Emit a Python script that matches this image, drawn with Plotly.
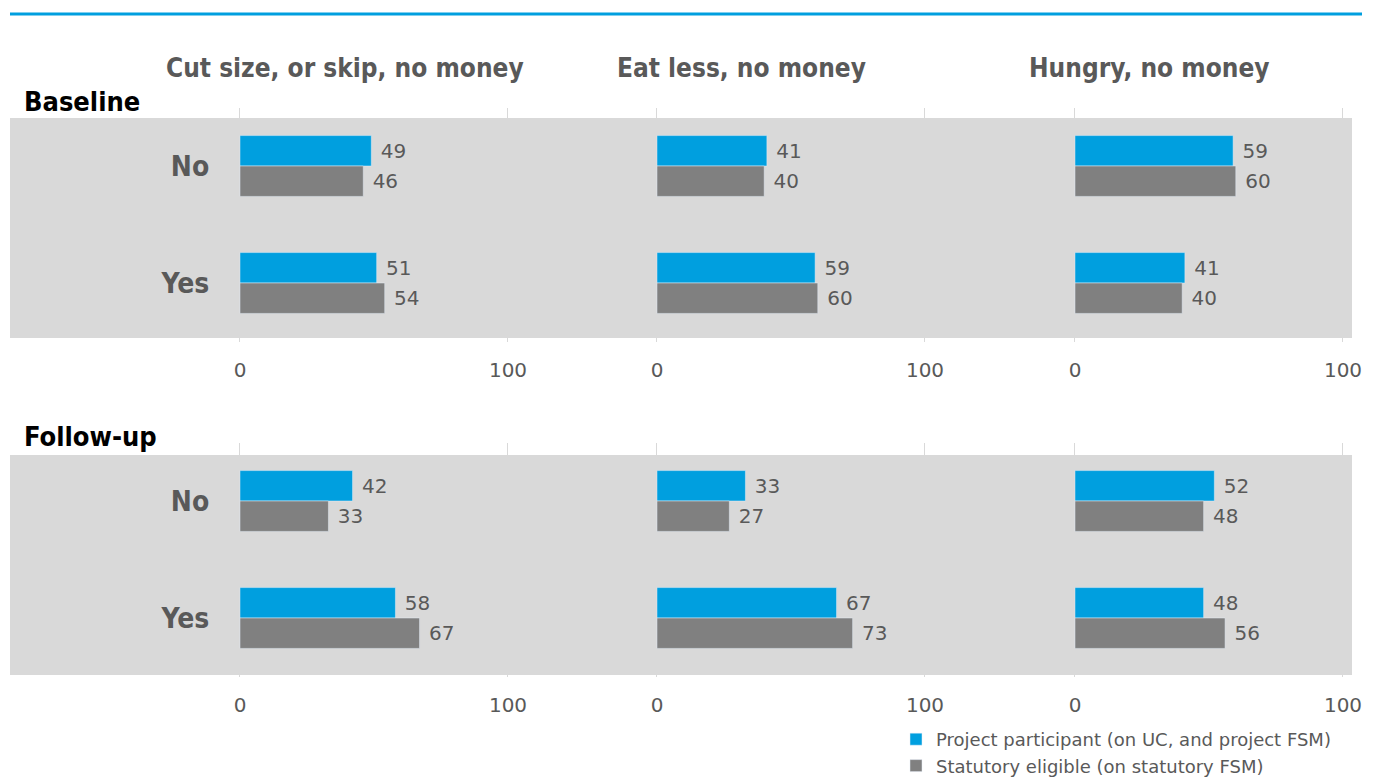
import plotly.graph_objects as go

# ---- data ----
categories = ["No", "Yes"]
panel_titles = ["Cut size, or skip, no money", "Eat less, no money", "Hungry, no money"]
wave_labels = ["Baseline", "Follow-up"]
series_names = ["Project participant (on UC, and project FSM)", "Statutory eligible (on statutory FSM)"]

# values: [panel][category]
baseline_participant = [[49, 51], [41, 59], [59, 41]]
baseline_statutory = [[46, 54], [40, 60], [60, 40]]
followup_participant = [[42, 58], [33, 67], [52, 48]]
followup_statutory = [[33, 67], [27, 73], [48, 56]]

x_ticks = [0, 100]

BLUE = "#009FDF"
GREY = "#808080"
TXT = "#595959"
W, H = 1374, 778
BODY_FONT = "'DejaVu Sans', sans-serif"
COND_FONT = "'DejaVu Sans Condensed', 'DejaVu Sans', sans-serif"

fig = go.Figure()

col_px = [(240, 508), (657, 925), (1075, 1343)]
row_px = [(107.5, 341.5), (442.5, 676.5)]
pad_units = 0.8

waves = [(baseline_participant, baseline_statutory), (followup_participant, followup_statutory)]

k = 0
for r, (part, stat) in enumerate(waves):
    for c in range(3):
        k += 1
        xa = "x" if k == 1 else f"x{k}"
        ya = "y" if k == 1 else f"y{k}"
        for s, (vals, col) in enumerate([(part[c], BLUE), (stat[c], GREY)]):
            fig.add_trace(go.Bar(
                y=categories, x=vals, orientation="h",
                name=series_names[s], marker_color=col,
                text=vals, texttemplate=" %{x}", textposition="outside",
                textfont=dict(size=20, color=TXT, family=BODY_FONT),
                cliponaxis=False,
                legendgroup=series_names[s], showlegend=(k == 1),
                xaxis=xa, yaxis=ya, offsetgroup=str(s),
            ))
        x0, x1 = col_px[c]
        ppu = (x1 - x0) / 100.0
        d0 = (x0 - pad_units * ppu) / W
        d1 = (x1 + pad_units * ppu) / W
        y0, y1 = row_px[r]
        axname = "xaxis" if k == 1 else f"xaxis{k}"
        ayname = "yaxis" if k == 1 else f"yaxis{k}"
        fig.layout[axname] = dict(
            domain=[d0, d1], range=[-pad_units, 100 + pad_units], anchor=ya,
            tickvals=x_ticks, showgrid=True, gridcolor="#D9D9D9", gridwidth=1,
            zeroline=False, showline=False, ticks="outside", ticklen=10,
            tickcolor="rgba(0,0,0,0)", automargin=False,
            tickfont=dict(size=20, color=TXT, family=BODY_FONT),
        )
        fig.layout[ayname] = dict(
            domain=[1 - y1 / H, 1 - y0 / H], anchor=xa,
            categoryorder="array", categoryarray=categories,
            range=[1.5, -0.5], showgrid=False, zeroline=False, showline=False,
            showticklabels=(c == 0), ticks="outside", ticklen=22,
            tickcolor="rgba(0,0,0,0)", automargin=False,
            tickprefix="<b>", ticksuffix="</b>",
            tickfont=dict(size=28, color=TXT, family=COND_FONT),
        )

shapes = []
shapes.append(dict(type="line", xref="paper", yref="paper", x0=10 / W, x1=1362 / W,
                   y0=1 - 14 / H, y1=1 - 14 / H, line=dict(color=BLUE, width=3)))
for (b0, b1) in [(118, 338), (455, 675)]:
    shapes.append(dict(type="rect", xref="paper", yref="paper", x0=10 / W, x1=1352 / W,
                       y0=1 - b1 / H, y1=1 - b0 / H, fillcolor="#D9D9D9",
                       line=dict(width=0), layer="below"))

annotations = []
title_centers = [345, 741, 1149]
for t, cx in zip(panel_titles, title_centers):
    annotations.append(dict(text="<b>" + t + "</b>", x=cx / W, y=1 - 68 / H, xref="paper", yref="paper",
                            xanchor="center", yanchor="middle", showarrow=False,
                            font=dict(size=26, color=TXT, family=COND_FONT)))
for lbl, yy in zip(wave_labels, [101, 436]):
    annotations.append(dict(text="<b>" + lbl + "</b>", x=22 / W, y=1 - yy / H, xref="paper", yref="paper",
                            xanchor="left", yanchor="middle", showarrow=False,
                            font=dict(size=27, color="#000000", family=COND_FONT)))

fig.update_layout(
    width=W, height=H, margin=dict(l=0, r=0, t=0, b=0, autoexpand=False),
    paper_bgcolor="white", plot_bgcolor="rgba(0,0,0,0)",
    barmode="group", bargap=0.48, bargroupgap=0,
    shapes=shapes, annotations=annotations,
    legend=dict(x=896 / W, y=1 - 721 / H, xanchor="left", yanchor="top",
                font=dict(size=18, color=TXT, family=BODY_FONT),
                tracegroupgap=0, itemwidth=30, bgcolor="rgba(0,0,0,0)"),
    font=dict(family=BODY_FONT, color=TXT),
)

fig.write_html(
    "out.html",
    config={"displayModeBar": False},
    post_script="document.body.style.margin='0px';document.body.style.overflow='hidden';",
)
